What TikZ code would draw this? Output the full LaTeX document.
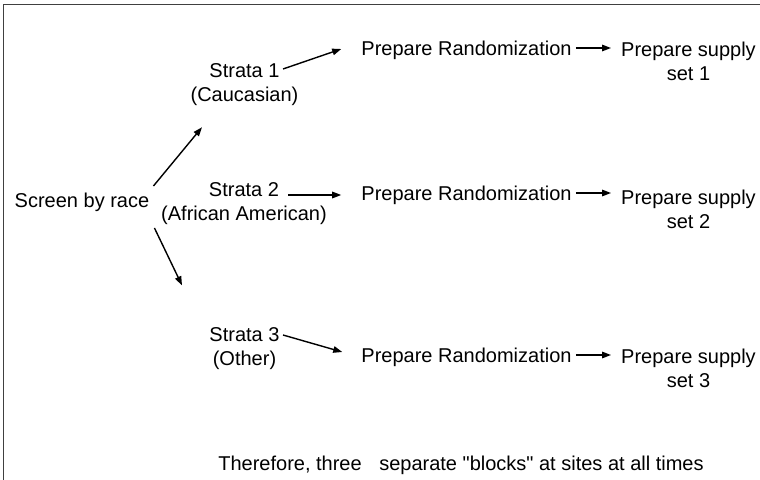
\documentclass[tikz,border=0pt]{standalone}
\usepackage{fontspec}
% plain family: no TeX ligature mapping, so " stays a straight quote
\newfontfamily\labelfont{Liberation Sans}
\usetikzlibrary{arrows.meta,calc}
\begin{document}
\begin{tikzpicture}[x=1bp,y=-1bp,
  txt/.style={inner sep=0pt, align=center, font=\labelfont\fontsize{20bp}{24bp}\selectfont},
  arr/.style={-{Triangle[length=9bp,width=6.5bp]}, line width=1.4bp},
  frame/.style={line width=1.6bp, draw=black!75}]
\useasboundingbox (0,0) rectangle (760,480);
% open frame: top and left edges
\draw[frame] (3.5,480) -- (3.5,4.5) -- (760,4.5);

% labels
\node[txt] (screen) at (82,202) {Screen by race};
\node[txt] (s1) at (244.5,85) {Strata 1\\(Caucasian)};
\node[txt] (s2) at (244,204) {Strata 2\\(African American)};
\node[txt] (s3) at (244.5,349) {Strata 3\\(Other)};
\node[txt] (pr1) at (466.5,50) {Prepare Randomization};
\node[txt] (pr2) at (466.5,195) {Prepare Randomization};
\node[txt] (pr3) at (466.5,357) {Prepare Randomization};
\node[txt] (sup1) at (688.5,61) {Prepare supply\\set 1};
\node[txt] (sup2) at (688.5,209) {Prepare supply\\set 2};
\node[txt] (sup3) at (688.5,368) {Prepare supply\\set 3};
\node[txt] (note) at (461,465) {Therefore, three\hspace{12bp} separate "blocks" at sites at all times};

% screening splits into strata
\draw[arr] ([shift={(4,-16)}]screen.east) -- ([shift={(-42.5,21)}]s1.south);
\draw[arr] ([shift={(5,26)}]screen.east) -- ([shift={(-62.5,-42.4)}]s3.north);

% strata to randomization
\draw[arr] ([shift={(38.5,-16)}]s1.center) -- ([shift={(-20,-1)}]pr1.west);
\draw[arr] ([shift={(44,-9)}]s2.center) -- ([shift={(-20,0)}]pr2.west);
\draw[arr] ([shift={(38.5,-14)}]s3.center) -- ([shift={(-19,-5)}]pr3.west);

% randomization to supply sets
\draw[arr] ([shift={(4,-2)}]pr1.east) -- ($(pr1.east -| sup1.west)+(-10,-2)$);
\draw[arr] ([shift={(4,-2)}]pr2.east) -- ($(pr2.east -| sup2.west)+(-10,-2)$);
\draw[arr] ([shift={(4,-2)}]pr3.east) -- ($(pr3.east -| sup3.west)+(-10,-2)$);
\end{tikzpicture}
\end{document}
